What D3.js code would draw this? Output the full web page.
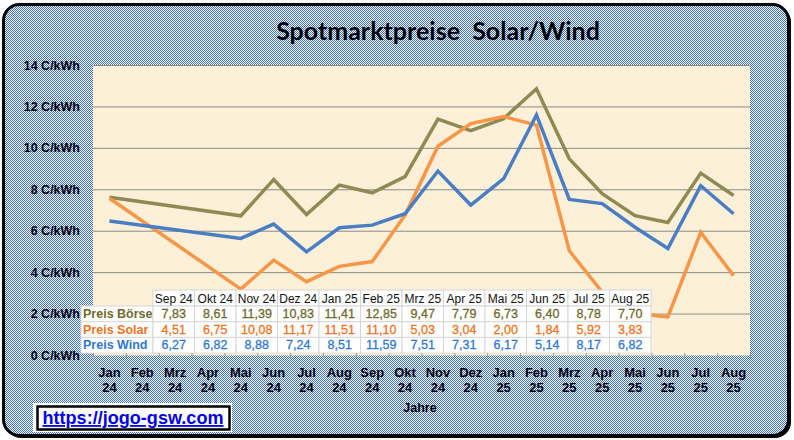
<!DOCTYPE html>
<html>
<head>
<meta charset="utf-8">
<script src="https://cdn.jsdelivr.net/npm/d3@7"></script>
<style>
  body { margin: 0; background: #fff; }
  svg { display: block; }
</style>
</head>
<body>
<div id="chart"></div>
<script>
var width = 794;
var height = 440;

// months on the x axis
var months = ["Jan 24", "Feb 24", "Mrz 24", "Apr 24", "Mai 24", "Jun 24", "Jul 24", "Aug 24",
              "Sep 24", "Okt 24", "Nov 24", "Dez 24", "Jan 25", "Feb 25", "Mrz 25", "Apr 25",
              "Mai 25", "Jun 25", "Jul 25", "Aug 25"];

// prices in C/kWh, null = no value (line is joined over the gap)
var boerse = [7.62, null, null, null, 6.72, 8.47, 6.78, 8.20, 7.83, 8.61, 11.39, 10.83,
              11.41, 12.85, 9.47, 7.79, 6.73, 6.40, 8.78, 7.70];
var solar  = [7.57, null, null, null, 3.18, 4.58, 3.54, 4.28, 4.51, 6.75, 10.08, 11.17,
              11.51, 11.10, 5.03, 3.04, 2.00, 1.84, 5.92, 3.83];
var wind   = [6.47, null, null, null, 5.63, 6.32, 4.98, 6.14, 6.27, 6.82, 8.88, 7.24,
              8.51, 11.59, 7.51, 7.31, 6.17, 5.14, 8.17, 6.82];

var yTicks = [0, 2, 4, 6, 8, 10, 12, 14];
var tableFrom = 8; // table starts with Sep 24

var series = [
    {name: "Preis Börse", values: boerse, line: "#8e8a52", text: "#6f6a2c"},
    {name: "Preis Solar", values: solar,  line: "#f79646", text: "#ee7422"},
    {name: "Preis Wind",  values: wind,   line: "#4a7ec4", text: "#2f78cf"}
];

var plot = {left: 93, right: 750, top: 65, bottom: 355};

var de = d3.formatLocale({decimal: ",", thousands: ".", grouping: [3], currency: ["", " €"]});
var fmt = de.format(".2f");

/* Scale */
var xScale = d3.scaleBand()
    .domain(months)
    .range([plot.left, plot.right]);

var yScale = d3.scaleLinear()
    .domain([0, 14])
    .range([plot.bottom, plot.top]);

/* Add SVG */
var svg = d3.select("#chart").append("svg")
    .attr("width", width)
    .attr("height", height);

var defs = svg.append("defs");
var pat = defs.append("pattern")
    .attr("id", "chk")
    .attr("width", 2).attr("height", 2)
    .attr("patternUnits", "userSpaceOnUse");
pat.append("rect").attr("width", 2).attr("height", 2).attr("fill", "#ffffff");
pat.append("rect").attr("width", 1).attr("height", 1).attr("fill", "#3d6dc0");
pat.append("rect").attr("x", 1).attr("y", 1).attr("width", 1).attr("height", 1).attr("fill", "#3d6dc0");

/* frame */
svg.append("rect")
    .attr("x", 5).attr("y", 6)
    .attr("width", 786).attr("height", 432)
    .attr("rx", 16)
    .attr("fill", "#000");
svg.append("rect")
    .attr("x", 3.5).attr("y", 4.5)
    .attr("width", 785).attr("height", 431)
    .attr("rx", 16)
    .attr("fill", "url(#chk)")
    .attr("stroke", "#000")
    .attr("stroke-width", 3);

/* title */
svg.append("text")
    .attr("x", 438).attr("y", 40)
    .attr("text-anchor", "middle")
    .style("font-family", "Lato, 'Open Sans', sans-serif")
    .style("font-weight", "bold")
    .style("font-size", "25px")
    .attr("fill", "#000")
    .text("Spotmarktpreise\u00a0\u00a0Solar/Wind");

/* plot area */
svg.append("rect")
    .attr("x", plot.left).attr("y", plot.top)
    .attr("width", plot.right - plot.left)
    .attr("height", plot.bottom - plot.top)
    .attr("fill", "#fcf0d9");

svg.append("g")
    .selectAll("line")
    .data(yTicks.filter(d => d > 0)).enter()
    .append("line")
    .attr("x1", plot.left).attr("x2", plot.right)
    .attr("y1", d => yScale(d) + 0.5).attr("y2", d => yScale(d) + 0.5)
    .attr("stroke", "#8a8a8a")
    .attr("stroke-width", 1);

/* y labels */
svg.append("g")
    .selectAll("text")
    .data(yTicks).enter()
    .append("text")
    .attr("x", 80)
    .attr("y", d => yScale(d))
    .attr("dy", "0.36em")
    .attr("text-anchor", "end")
    .style("font-family", "'Liberation Sans', Arial, sans-serif")
    .style("font-weight", "bold")
    .style("font-size", "12.5px")
    .text(d => d + " C/kWh");

/* lines */
var line = d3.line()
    .x(d => xScale(d.m) + xScale.bandwidth() / 2)
    .y(d => yScale(d.v));

svg.append("g")
    .selectAll("path")
    .data(series).enter()
    .append("path")
    .attr("d", s => line(months.map((m, i) => ({m: m, v: s.values[i]})).filter(d => d.v != null)))
    .attr("fill", "none")
    .attr("stroke", s => s.line)
    .attr("stroke-width", 3.5)
    .attr("stroke-linejoin", "miter");

/* data table */
var tab = {labelX: 81, x0: 153, colW: 41.5, top: 290, headH: 16, rowH: 15.7};
var tabMonths = months.slice(tableFrom);
var tg = svg.append("g");

// clip for the row labels (in row coordinates)
defs.append("clipPath").attr("id", "labclip")
    .append("rect")
    .attr("x", tab.labelX).attr("y", 0)
    .attr("width", tab.x0 - tab.labelX)
    .attr("height", tab.rowH);

// header cells
tg.selectAll(".hcell")
    .data(tabMonths).enter()
    .append("rect")
    .attr("x", (d, i) => tab.x0 + i * tab.colW)
    .attr("y", tab.top)
    .attr("width", tab.colW).attr("height", tab.headH)
    .attr("fill", "#fff").attr("stroke", "#d6d6d6");
tg.selectAll(".htext")
    .data(tabMonths).enter()
    .append("text")
    .attr("x", (d, i) => tab.x0 + (i + 0.5) * tab.colW)
    .attr("y", tab.top + 12.5)
    .attr("text-anchor", "middle")
    .style("font-family", "'Liberation Sans', Arial, sans-serif")
    .style("font-size", "12px")
    .attr("fill", "#111")
    .text(d => d);

var rows = tg.selectAll(".row")
    .data(series).enter()
    .append("g")
    .attr("transform", (d, r) => `translate(0, ${tab.top + tab.headH + r * tab.rowH})`);

rows.append("rect")
    .attr("x", tab.labelX).attr("y", 0)
    .attr("width", tab.x0 - tab.labelX).attr("height", tab.rowH)
    .attr("fill", "#fff").attr("stroke", "#d6d6d6");

rows.append("text")
    .attr("x", tab.labelX + 2).attr("y", 12)
    .attr("clip-path", "url(#labclip)")
    .style("font-family", "'Liberation Sans', Arial, sans-serif")
    .style("font-weight", "bold")
    .style("font-size", "12.5px")
    .attr("fill", s => s.text)
    .text(s => s.name);

rows.selectAll(".cell")
    .data(s => s.values.slice(tableFrom).map(v => ({v: v, c: s.text}))).enter()
    .append("rect")
    .attr("x", (d, i) => tab.x0 + i * tab.colW)
    .attr("y", 0)
    .attr("width", tab.colW).attr("height", tab.rowH)
    .attr("fill", "#fff").attr("stroke", "#d6d6d6");

rows.selectAll(".val")
    .data(s => s.values.slice(tableFrom).map(v => ({v: v, c: s.text}))).enter()
    .append("text")
    .attr("x", (d, i) => tab.x0 + (i + 0.5) * tab.colW)
    .attr("y", 12)
    .attr("text-anchor", "middle")
    .style("font-family", "'Liberation Sans', Arial, sans-serif")
    .style("font-size", "12.5px")
    .attr("fill", d => d.c)
    .attr("stroke", d => d.c)
    .attr("stroke-width", 0.3)
    .text(d => fmt(d.v));

/* x axis */
var xAxis = svg.append("g");
xAxis.append("line")
    .attr("x1", plot.left).attr("x2", plot.right)
    .attr("y1", plot.bottom + 0.5).attr("y2", plot.bottom + 0.5)
    .attr("stroke", "#9a9a9a")
    .attr("stroke-dasharray", "1,1");
xAxis.selectAll(".tick")
    .data(months.concat(["end"])).enter()
    .append("line")
    .attr("x1", (d, i) => plot.left + i * xScale.bandwidth() + 0.5)
    .attr("x2", (d, i) => plot.left + i * xScale.bandwidth() + 0.5)
    .attr("y1", plot.bottom - 2).attr("y2", plot.bottom + 3)
    .attr("stroke", "#9a9a9a");

var xl = xAxis.selectAll(".xl")
    .data(months).enter()
    .append("text")
    .attr("x", d => xScale(d) + xScale.bandwidth() / 2)
    .attr("text-anchor", "middle")
    .style("font-family", "'Liberation Sans', Arial, sans-serif")
    .style("font-weight", "bold")
    .style("font-size", "13px");
xl.append("tspan").attr("x", d => xScale(d) + xScale.bandwidth() / 2).attr("y", 377).text(d => d.split(" ")[0]);
xl.append("tspan").attr("x", d => xScale(d) + xScale.bandwidth() / 2).attr("y", 392).text(d => d.split(" ")[1]);

svg.append("text")
    .attr("x", 420).attr("y", 412)
    .attr("text-anchor", "middle")
    .style("font-family", "'Liberation Sans', Arial, sans-serif")
    .style("font-weight", "bold")
    .style("font-size", "12.5px")
    .text("Jahre");

/* link box */
svg.append("rect")
    .attr("x", 33).attr("y", 403)
    .attr("width", 199).attr("height", 29)
    .attr("fill", "#fff");
svg.append("rect")
    .attr("x", 37.5).attr("y", 406.5)
    .attr("width", 192).attr("height", 23)
    .attr("fill", "#fff")
    .attr("stroke", "#000")
    .attr("stroke-width", 2.5);
svg.append("text")
    .attr("x", 133).attr("y", 424)
    .attr("text-anchor", "middle")
    .style("font-family", "'Liberation Sans', Arial, sans-serif")
    .style("font-weight", "bold")
    .style("font-size", "18px")
    .style("text-decoration", "underline")
    .attr("fill", "#0000ee")
    .attr("textLength", 181)
    .attr("lengthAdjust", "spacingAndGlyphs")
    .text("https://jogo-gsw.com");
</script>
</body>
</html>
